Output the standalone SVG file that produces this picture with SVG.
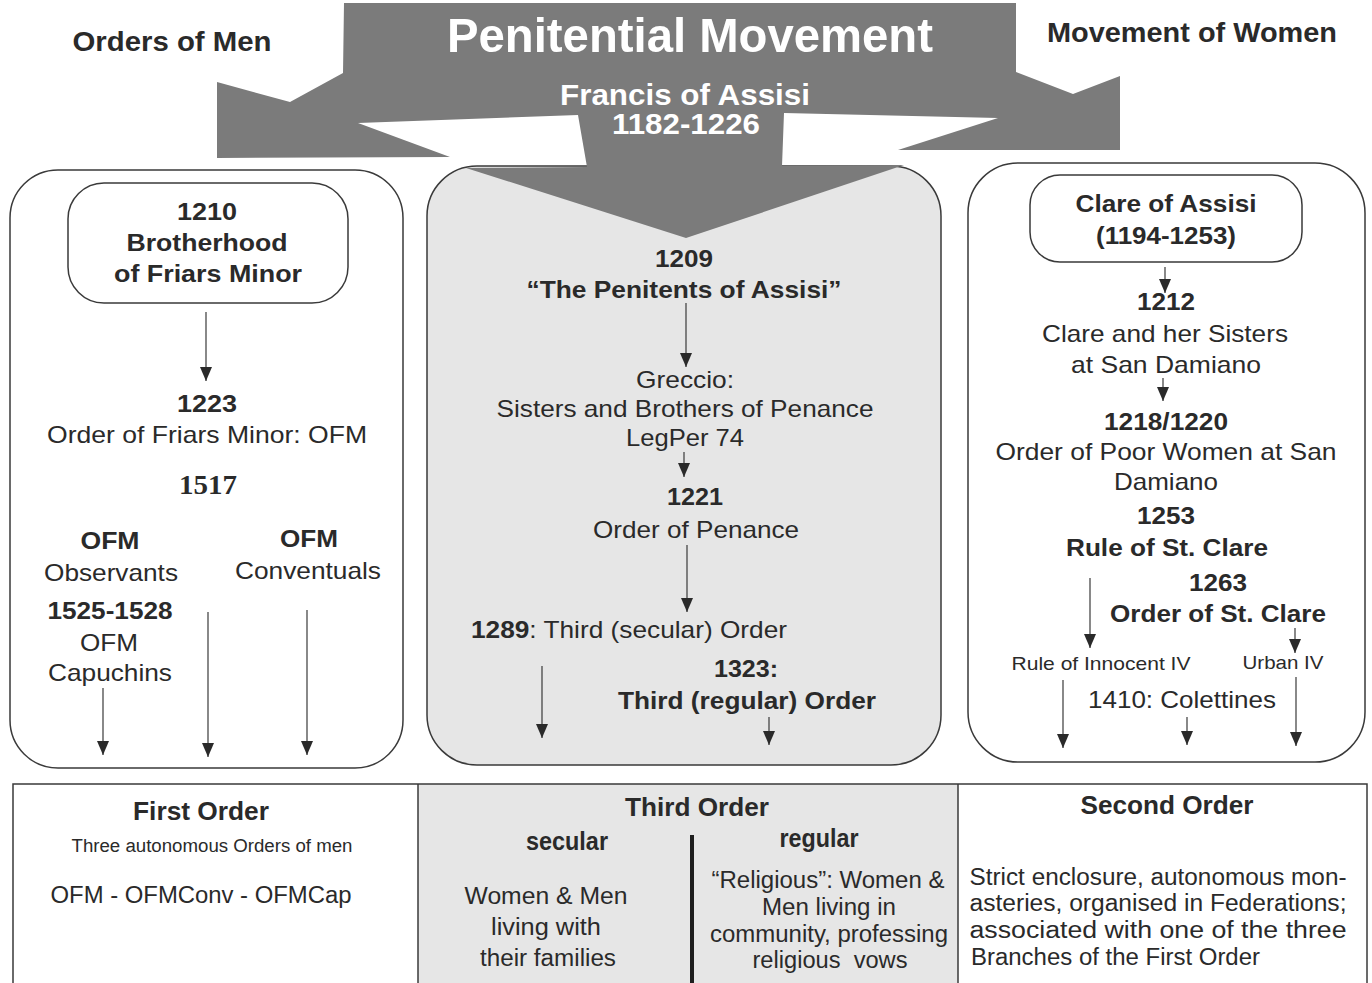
<svg xmlns="http://www.w3.org/2000/svg" width="1372" height="983" viewBox="0 0 1372 983">
<defs>
<marker id="ah" markerUnits="userSpaceOnUse" markerWidth="14" markerHeight="12" refX="14" refY="6" orient="auto">
<path d="M0,0 L14,6 L0,12 z" fill="#2a2a2a"/>
</marker>
<style>
text{font-family:"Liberation Sans",Arial,sans-serif;fill:#2a2a2a;text-anchor:middle}
.r{font-size:24px}
.b{font-size:24px;font-weight:bold}
.h{font-size:27px;font-weight:bold}
.w{fill:#ffffff;font-weight:bold}
.n{font-size:23px}
.nb{font-size:25px;font-weight:bold}
.box{fill:#ffffff;stroke:#3a3a3a;stroke-width:1.5}
.gbox{fill:#e6e6e6;stroke:#3a3a3a;stroke-width:1.5}
.c line{stroke:#3a3a3a;stroke-width:1.2;marker-end:url(#ah)}
</style>
</defs>
<rect x="0" y="0" width="1372" height="983" fill="#ffffff"/>

<g id="header-men"><text class="h" x="172" y="51" textLength="199" lengthAdjust="spacingAndGlyphs">Orders of Men</text></g>
<g id="header-women"><text class="h" x="1192" y="42" textLength="290" lengthAdjust="spacingAndGlyphs">Movement of Women</text></g>

<g id="box-men">
<rect class="box" x="10" y="170" width="393" height="598" rx="48"/>
</g>
<g id="box-penitents">
<rect class="gbox" x="427" y="166" width="514" height="599" rx="50"/>
</g>
<g id="box-women">
<rect class="box" x="968" y="163" width="397" height="599" rx="50"/>
</g>

<g id="penitential-movement">
<polygon fill="#7b7b7b" points="344,3 1016,3 1016,72 1073,94 1120,76 1120,150 898,150 998,118 784,113 782,166 904,165 686,238 466,168 587,167 578,115 358,123 450,157 217,158 217,82 290,102 343,73"/>
<text class="w" x="690" y="52" font-size="49" textLength="486" lengthAdjust="spacingAndGlyphs">Penitential Movement</text>
<text class="w" x="685" y="105" font-size="29" textLength="250" lengthAdjust="spacingAndGlyphs">Francis of Assisi</text>
<text class="w" x="686" y="134" font-size="29" textLength="148" lengthAdjust="spacingAndGlyphs">1182-1226</text>
</g>

<g id="brotherhood-1210">
<rect class="box" x="68" y="183" width="280" height="120" rx="36"/>
<text class="b" x="207" y="220" textLength="60" lengthAdjust="spacingAndGlyphs">1210</text>
<text class="b" x="207" y="251" textLength="161" lengthAdjust="spacingAndGlyphs">Brotherhood</text>
<text class="b" x="208" y="282" textLength="188" lengthAdjust="spacingAndGlyphs">of Friars Minor</text>
</g>
<g id="ofm-1223">
<text class="b" x="207" y="412" textLength="60" lengthAdjust="spacingAndGlyphs">1223</text>
<text class="r" x="207" y="443" textLength="320" lengthAdjust="spacingAndGlyphs">Order of Friars Minor: OFM</text>
</g>
<g id="split-1517"><text x="208" y="494" font-size="28" font-weight="bold" textLength="58" lengthAdjust="spacingAndGlyphs" style="font-family:'Liberation Serif','Times New Roman',serif">1517</text></g>
<g id="observants">
<text class="b" x="110" y="549" textLength="59" lengthAdjust="spacingAndGlyphs">OFM</text>
<text class="r" x="111" y="581" textLength="134" lengthAdjust="spacingAndGlyphs">Observants</text>
</g>
<g id="capuchins">
<text class="b" x="110" y="619" textLength="125" lengthAdjust="spacingAndGlyphs">1525-1528</text>
<text class="r" x="109" y="651" textLength="58" lengthAdjust="spacingAndGlyphs">OFM</text>
<text class="r" x="110" y="681" textLength="124" lengthAdjust="spacingAndGlyphs">Capuchins</text>
</g>
<g id="conventuals">
<text class="b" x="309" y="547" textLength="58" lengthAdjust="spacingAndGlyphs">OFM</text>
<text class="r" x="308" y="579" textLength="146" lengthAdjust="spacingAndGlyphs">Conventuals</text>
</g>

<g id="penitents-1209">
<text class="b" x="684" y="267" textLength="58" lengthAdjust="spacingAndGlyphs">1209</text>
<text class="b" x="684" y="298" textLength="315" lengthAdjust="spacingAndGlyphs">“The Penitents of Assisi”</text>
</g>
<g id="greccio">
<text class="r" x="685" y="388" textLength="98" lengthAdjust="spacingAndGlyphs">Greccio:</text>
<text class="r" x="685" y="417" textLength="377" lengthAdjust="spacingAndGlyphs">Sisters and Brothers of Penance</text>
<text class="r" x="685" y="446" textLength="118" lengthAdjust="spacingAndGlyphs">LegPer 74</text>
</g>
<g id="penance-1221">
<text class="b" x="695" y="505" textLength="56" lengthAdjust="spacingAndGlyphs">1221</text>
<text class="r" x="696" y="538" textLength="206" lengthAdjust="spacingAndGlyphs">Order of Penance</text>
</g>
<g id="secular-1289">
<text class="r" x="629" y="638" textLength="316" lengthAdjust="spacingAndGlyphs"><tspan font-weight="bold">1289</tspan>: Third (secular) Order</text>
</g>
<g id="regular-1323">
<text class="b" x="746" y="677" textLength="64" lengthAdjust="spacingAndGlyphs">1323:</text>
<text class="b" x="747" y="709" textLength="258" lengthAdjust="spacingAndGlyphs">Third (regular) Order</text>
</g>

<g id="clare">
<rect class="box" x="1030" y="175" width="272" height="87" rx="30"/>
<text class="b" x="1166" y="212" textLength="181" lengthAdjust="spacingAndGlyphs">Clare of Assisi</text>
<text class="b" x="1166" y="244" textLength="140" lengthAdjust="spacingAndGlyphs">(1194-1253)</text>
</g>
<g id="sisters-1212">
<text class="b" x="1166" y="310" textLength="58" lengthAdjust="spacingAndGlyphs">1212</text>
<text class="r" x="1165" y="342" textLength="246" lengthAdjust="spacingAndGlyphs">Clare and her Sisters</text>
<text class="r" x="1166" y="373" textLength="190" lengthAdjust="spacingAndGlyphs">at San Damiano</text>
</g>
<g id="poor-women-1218">
<text class="b" x="1166" y="430" textLength="124" lengthAdjust="spacingAndGlyphs">1218/1220</text>
<text class="r" x="1166" y="460" textLength="341" lengthAdjust="spacingAndGlyphs">Order of Poor Women at San</text>
<text class="r" x="1166" y="490" textLength="104" lengthAdjust="spacingAndGlyphs">Damiano</text>
</g>
<g id="rule-1253">
<text class="b" x="1166" y="524" textLength="58" lengthAdjust="spacingAndGlyphs">1253</text>
<text class="b" x="1167" y="556" textLength="202" lengthAdjust="spacingAndGlyphs">Rule of St. Clare</text>
</g>
<g id="order-1263">
<text class="b" x="1218" y="591" textLength="58" lengthAdjust="spacingAndGlyphs">1263</text>
<text class="b" x="1218" y="622" textLength="216" lengthAdjust="spacingAndGlyphs">Order of St. Clare</text>
</g>
<g id="innocent"><text x="1101" y="670" font-size="19" textLength="179" lengthAdjust="spacingAndGlyphs">Rule of Innocent IV</text></g>
<g id="urban"><text x="1283" y="669" font-size="19" textLength="81" lengthAdjust="spacingAndGlyphs">Urban IV</text></g>
<g id="colettines"><text class="r" x="1182" y="708" textLength="188" lengthAdjust="spacingAndGlyphs">1410: Colettines</text></g>

<g id="connectors" class="c">
<line x1="206" y1="312" x2="206" y2="381"/>
<line x1="103" y1="688" x2="103" y2="755"/>
<line x1="208" y1="612" x2="208" y2="757"/>
<line x1="307" y1="610" x2="307" y2="755"/>
<line x1="686" y1="303" x2="686" y2="367"/>
<line x1="684" y1="452" x2="684" y2="477"/>
<line x1="687" y1="545" x2="687" y2="612"/>
<line x1="542" y1="666" x2="542" y2="738"/>
<line x1="769" y1="717" x2="769" y2="745"/>
<line x1="1165" y1="267" x2="1165" y2="293"/>
<line x1="1163" y1="378" x2="1163" y2="401"/>
<line x1="1090" y1="578" x2="1090" y2="648"/>
<line x1="1295" y1="628" x2="1295" y2="653"/>
<line x1="1063" y1="680" x2="1063" y2="748"/>
<line x1="1187" y1="717" x2="1187" y2="745"/>
<line x1="1296" y1="677" x2="1296" y2="746"/>
</g>

<g id="table">
<rect x="418" y="784" width="540" height="205" fill="#e6e6e6"/>
<rect x="13" y="784" width="1354" height="205" fill="none" stroke="#3a3a3a" stroke-width="1.5"/>
<line x1="418" y1="784" x2="418" y2="989" stroke="#3a3a3a" stroke-width="1.5"/>
<line x1="958" y1="784" x2="958" y2="989" stroke="#3a3a3a" stroke-width="1.5"/>
</g>
<g id="first-order">
<text class="nb" x="201" y="820" textLength="136" lengthAdjust="spacingAndGlyphs">First Order</text>
<text x="212" y="852" font-size="18" textLength="281" lengthAdjust="spacingAndGlyphs">Three autonomous Orders of men</text>
<text class="n" x="201" y="903" font-size="24" textLength="301" lengthAdjust="spacingAndGlyphs">OFM - OFMConv - OFMCap</text>
</g>
<g id="third-order">
<text class="nb" x="697" y="816" textLength="144" lengthAdjust="spacingAndGlyphs">Third Order</text>
<line x1="692" y1="835" x2="692" y2="983" stroke="#1e1e1e" stroke-width="4"/>
</g>
<g id="third-secular">
<text class="nb" x="567" y="850" textLength="82" lengthAdjust="spacingAndGlyphs">secular</text>
<text class="n" x="546" y="904" textLength="163" lengthAdjust="spacingAndGlyphs">Women &amp; Men</text>
<text class="n" x="546" y="935" textLength="110" lengthAdjust="spacingAndGlyphs">living with</text>
<text class="n" x="548" y="966" textLength="136" lengthAdjust="spacingAndGlyphs">their families</text>
</g>
<g id="third-regular">
<text class="nb" x="819" y="847" textLength="79" lengthAdjust="spacingAndGlyphs">regular</text>
<text class="n" x="828" y="888" textLength="233" lengthAdjust="spacingAndGlyphs">“Religious”: Women &amp;</text>
<text class="n" x="829" y="915" textLength="134" lengthAdjust="spacingAndGlyphs">Men living in</text>
<text class="n" x="829" y="942" textLength="238" lengthAdjust="spacingAndGlyphs">community, professing</text>
<text class="n" x="830" y="968" textLength="155" lengthAdjust="spacingAndGlyphs" xml:space="preserve">religious  vows</text>
</g>
<g id="second-order">
<text class="nb" x="1167" y="814" textLength="173" lengthAdjust="spacingAndGlyphs">Second Order</text>
<text class="n" x="1158" y="885" textLength="377" lengthAdjust="spacingAndGlyphs">Strict enclosure, autonomous mon-</text>
<text class="n" x="1158" y="911" textLength="377" lengthAdjust="spacingAndGlyphs">asteries, organised in Federations;</text>
<text class="n" x="1158" y="938" textLength="377" lengthAdjust="spacingAndGlyphs">associated with one of the three</text>
<text class="n" x="971" y="965" textLength="289" lengthAdjust="spacingAndGlyphs" style="text-anchor:start">Branches of the First Order</text>
</g>
</svg>
